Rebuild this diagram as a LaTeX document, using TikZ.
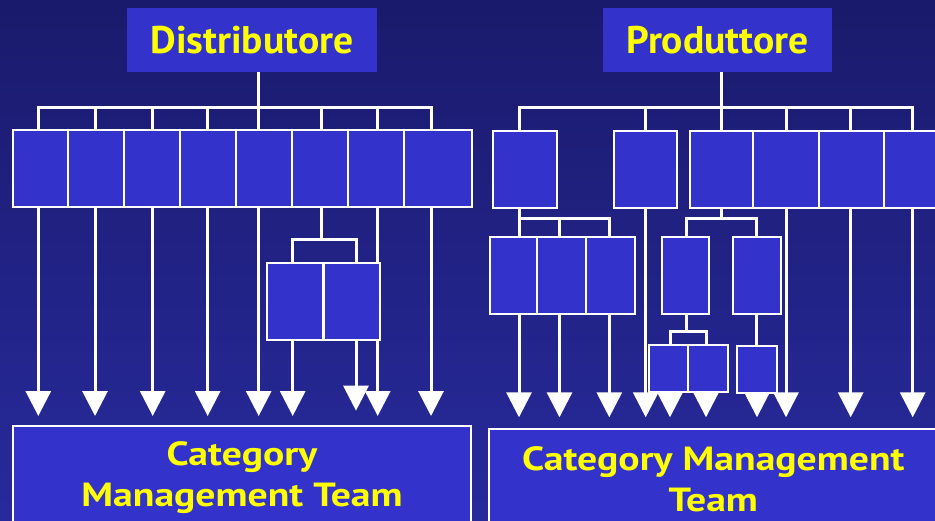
\documentclass[tikz,border=0pt]{standalone}
\usepackage{fontspec}
\setmainfont{PT Sans}
\usetikzlibrary{arrows.meta}
\definecolor{bgtop}{RGB}{26,26,108}
\definecolor{bgbot}{RGB}{40,42,156}
\definecolor{boxblue}{RGB}{51,51,204}
\definecolor{ytext}{RGB}{255,255,0}
\tikzset{
  ubox/.style={draw=white, fill=boxblue, line width=1.8pt, inner sep=0pt, outer sep=0pt, anchor=north west},
  conn/.style={draw=white, line width=3pt, line join=miter},
  arr/.style={conn, -{Triangle[length=25pt,width=25pt]}},
  titlebox/.style={fill=boxblue, text=ytext, inner sep=0pt, outer sep=0pt, anchor=north west,
    font=\bfseries\fontsize{38.5}{40}\selectfont},
  teambox/.style={draw=white, fill=boxblue, line width=2pt, inner sep=0pt, outer sep=0pt, anchor=north west},
  teamtext/.style={text=ytext, align=center, inner sep=0pt, xscale=1.185, font=\bfseries\fontsize{33.5}{41}\selectfont}
}
\newcommand{\bx}[5]{\node[ubox, minimum width={#4pt-#2pt}, minimum height={#5pt-#3pt}] (#1) at (#2,#3) {};}
\newcommand{\wtxt}[1]{\scalebox{1.03}[1]{#1}}
\begin{document}
\begin{tikzpicture}[x=1pt,y=-1pt]
\useasboundingbox (0,0) rectangle (935,520);
\shade[top color=bgtop, bottom color=bgbot] (0,0) rectangle (935,520);

% ---------- title boxes ----------
\node[titlebox, minimum width=250pt, minimum height=64pt] (Dist) at (127,8) {\wtxt{Distributore}};
\node[titlebox, minimum width=229pt, minimum height=64pt] (Prod) at (603,8) {\wtxt{Produttore}};

% ---------- named coordinates (line positions) ----------
\coordinate (busL) at (0,107);
\coordinate (tL1) at (38.3,416);
\coordinate (tL2) at (95,416);
\coordinate (tL3) at (152.7,416);
\coordinate (tL4) at (207.7,416);
\coordinate (tL5) at (258.7,416);
\coordinate (tL6) at (321.7,239.3);
\coordinate (tL7) at (377.7,416);
\coordinate (tL8) at (431,416);
\coordinate (tS1) at (292.7,416);
\coordinate (tS2) at (356,410.7);

\coordinate (busR) at (0,107);
\coordinate (subR) at (0,218.3);
\coordinate (subC1) at (0,331.7);
\coordinate (tA1) at (519,417.3);
\coordinate (tA2) at (559.5,417.3);
\coordinate (tA3) at (609.3,417.3);
\coordinate (tB) at (645.7,417.3);
\coordinate (tC) at (721,218.3);
\coordinate (tC1) at (686.7,331.7);
\coordinate (tC2) at (756.7,346);
\coordinate (tC1a) at (670,417.3);
\coordinate (tC1b) at (706,417.3);
\coordinate (tC2a) at (757,417.3);
\coordinate (tD) at (786,417.3);
\coordinate (tE) at (850.7,417.3);
\coordinate (tF) at (912.7,417.3);

% ----- left connectors -----
\draw[conn] (tL5 |- Dist.south) -- (tL5 |- busL);
\draw[conn] (tL1 |- 0,130) -- (tL1 |- busL) -- (tL8 |- busL) -- (tL8 |- 0,130);
\foreach \c in {tL2,tL3,tL4,tL5,tL6,tL7}{\draw[conn] (\c |- busL) -- (\c |- 0,130);}
\foreach \c in {tL1,tL2,tL3,tL4,tL5,tL7,tL8}{\draw[arr] (\c |- 0,207) -- (\c);}
\draw[conn] (tL6 |- 0,207) -- (tL6);
\draw[conn] (tS1 |- 0,262.7) -- (tS1 |- tL6) -- (tS2 |- tL6) -- (tS2 |- 0,262.7);
\draw[arr] (tS1 |- 0,340) -- (tS1);
\draw[arr] (tS2 |- 0,340) -- (tS2);

% ----- right connectors -----
\draw[conn] (tC |- Prod.south) -- (tC |- busR);
\draw[conn] (tA1 |- 0,130.7) -- (tA1 |- busR) -- (tF |- busR) -- (tF |- 0,130.7);
\foreach \c in {tB,tC,tD,tE}{\draw[conn] (\c |- busR) -- (\c |- 0,130.7);}
\foreach \c in {tB,tD,tE,tF}{\draw[arr] (\c |- 0,207.7) -- (\c);}
% A group
\draw[conn] (tA1 |- 0,207.7) -- (tA1 |- 0,237.3);
\draw[conn] (tA1 |- subR) -- (tA3 |- subR) -- (tA3 |- 0,237.3);
\draw[conn] (tA2 |- subR) -- (tA2 |- 0,237.3);
\foreach \c in {tA1,tA2,tA3}{\draw[arr] (\c |- 0,314.3) -- (\c);}
% C group
\draw[conn] (tC |- 0,207.7) -- (tC);
\draw[conn] (tC1 |- 0,237.3) -- (tC1 |- subR) -- (tC2 |- subR) -- (tC2 |- 0,237.3);
\draw[conn] (tC1 |- 0,314.3) -- (tC1);
\draw[conn] (tC1a |- 0,345) -- (tC1a |- subC1) -- (tC1b |- subC1) -- (tC1b |- 0,345);
\draw[conn] (tC2 |- 0,314.3) -- (tC2);
\foreach \c in {tC1a,tC1b}{\draw[arr] (\c |- 0,391.7) -- (\c);}
\draw[arr] (tC2a |- 0,393.3) -- (tC2a);

% ---------- left boxes ----------
\bx{L1}{13.3}{130}{68.3}{207}
\bx{L2}{68.3}{130}{124.3}{207}
\bx{L3}{124.3}{130}{180.3}{207}
\bx{L4}{180.3}{130}{236.3}{207}
\bx{L5}{236.3}{130}{292}{207}
\bx{L6}{292}{130}{347.7}{207}
\bx{L7}{347.7}{130}{403.7}{207}
\bx{L8}{403.7}{130}{471.7}{207}
\bx{S1}{267.3}{262.7}{322.7}{340}
\bx{S2}{324}{262.7}{380}{340}

% ---------- right boxes ----------
\bx{A}{493.3}{130.7}{557.3}{207.7}
\bx{B}{614}{130.7}{677.3}{207.7}
\bx{C}{690}{130.7}{753.3}{207.7}
\bx{D}{753.3}{130.7}{819}{207.7}
\bx{E}{819}{130.7}{884.3}{207.7}
\bx{F}{884.3}{130.7}{950}{207.7}
\bx{A1}{490}{237.3}{537.3}{314.3}
\bx{A2}{537.3}{237.3}{586}{314.3}
\bx{A3}{586}{237.3}{635.3}{314.3}
\bx{C1}{662.3}{237.3}{709.3}{314.3}
\bx{C2}{733.3}{237.3}{780.7}{314.3}
\bx{C1a}{649}{345}{688.3}{391.7}
\bx{C1b}{688.3}{345}{728.3}{391.7}
\bx{C2a}{737.3}{346}{776.7}{393.3}

% ---------- team boxes ----------
\node[teambox, minimum width=457.4pt, minimum height=110pt] (TL) at (13.3,426) {};
\node[teambox, minimum width=460pt, minimum height=110pt] (TR) at (489,429) {};
\node[teamtext] (TLt) at (242,477.5) {Category\\Management Team};
\node[teamtext] (TRt) at (713.3,479.2) {Category Management\\Team};
\end{tikzpicture}
\end{document}
